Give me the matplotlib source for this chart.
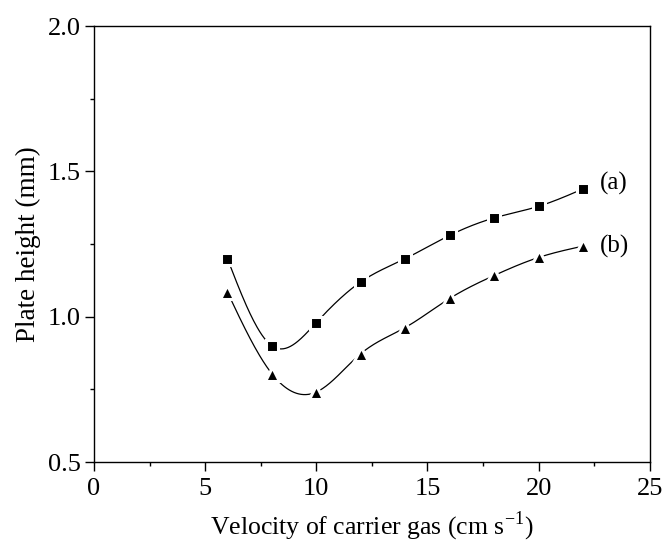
import numpy as np
import matplotlib
matplotlib.use('Agg')
import matplotlib.pyplot as plt
from matplotlib.ticker import MultipleLocator

plt.rcParams['font.family'] = ['Liberation Serif', 'DejaVu Serif']
plt.rcParams['mathtext.fontset'] = 'custom'
plt.rcParams['mathtext.rm'] = 'Liberation Serif'

velocity = [6, 8, 10, 12, 14, 16, 18, 20, 22]
height_a = [1.20, 0.90, 0.98, 1.12, 1.20, 1.28, 1.34, 1.38, 1.44]
height_b = [1.085, 0.804, 0.741, 0.873, 0.963, 1.063, 1.142, 1.204, 1.243]
series_labels = ['(a)', '(b)']


# natural cubic spline through the points, same as the smooth line in the original
def spline(x, y, n=300):
    x = np.asarray(x, float)
    y = np.asarray(y, float)
    k = len(x)
    h = np.diff(x)
    A = np.zeros((k, k))
    r = np.zeros(k)
    A[0, 0] = A[-1, -1] = 1
    for i in range(1, k - 1):
        A[i, i - 1] = h[i - 1]
        A[i, i] = 2 * (h[i - 1] + h[i])
        A[i, i + 1] = h[i]
        r[i] = 6 * ((y[i + 1] - y[i]) / h[i] - (y[i] - y[i - 1]) / h[i - 1])
    m = np.linalg.solve(A, r)
    xs = np.linspace(x[0], x[-1], n)
    idx = np.clip(np.searchsorted(x, xs) - 1, 0, k - 2)
    t0 = x[idx]
    t1 = x[idx + 1]
    hh = h[idx]
    ys = (m[idx] * (t1 - xs) ** 3 / (6 * hh) + m[idx + 1] * (xs - t0) ** 3 / (6 * hh)
          + (y[idx] / hh - m[idx] * hh / 6) * (t1 - xs)
          + (y[idx + 1] / hh - m[idx + 1] * hh / 6) * (xs - t0))
    return xs, ys


fig = plt.figure(figsize=(6.64, 5.43), dpi=100)
ax = fig.add_axes([0.1416, 0.149, 0.837, 0.803])

# white marker edge leaves the small gap between curve and symbol
for vals, mk, ms in [(height_a, 's', 8.8), (height_b, '^', 10.5)]:
    xs, ys = spline(velocity, vals)
    ax.plot(xs, ys, color='black', lw=0.9, zorder=2)
    ax.plot(velocity, vals, ls='none', marker=mk, ms=ms, color='black',
            markeredgecolor='white', markeredgewidth=2.2, zorder=3)

ax.text(22.75, height_a[-1] + 0.02, series_labels[0], fontsize=18, va='center')
ax.text(22.75, height_b[-1], series_labels[1], fontsize=18, va='center')

ax.set_xlim(0, 25)
ax.set_ylim(0.5, 2.0)
ax.xaxis.set_major_locator(MultipleLocator(5))
ax.xaxis.set_minor_locator(MultipleLocator(2.5))
ax.yaxis.set_major_locator(MultipleLocator(0.5))
ax.yaxis.set_minor_locator(MultipleLocator(0.25))
ax.tick_params(which='major', direction='out', length=6.5, width=1, labelsize=19)
ax.tick_params(which='minor', direction='out', length=3, width=1)
ax.tick_params(axis='x', pad=5)
ax.tick_params(axis='y', pad=3)
for s in ax.spines.values():
    s.set_linewidth(1)

ax.set_xlabel('Velocity of carrier gas (cm s$^{\\mathregular{-1}}$)', fontsize=18.5, labelpad=7)
ax.set_ylabel('Plate height (mm)', fontsize=19.5, labelpad=5)

fig.savefig('out.png', dpi=100)
